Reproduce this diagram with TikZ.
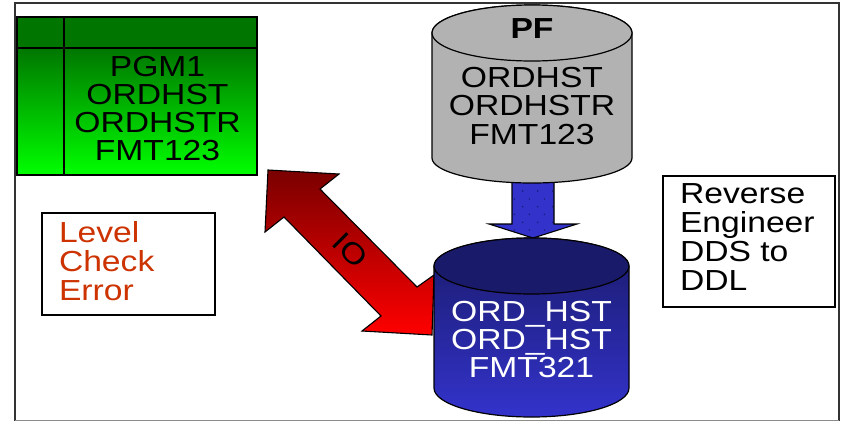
\documentclass[tikz,border=0pt]{standalone}
\usepackage{fontspec}
\setmainfont[FakeStretch=1.16]{Liberation Sans}
\definecolor{arrowblue}{RGB}{51,51,204}
\definecolor{navy}{RGB}{26,26,107}
\definecolor{darkgreen}{RGB}{0,118,0}
\definecolor{darkred}{RGB}{122,0,0}
\definecolor{rust}{RGB}{204,51,0}
\definecolor{cylgray}{RGB}{178,178,178}
\begin{document}
\begin{tikzpicture}[x=1pt,y=-1pt,
  every node/.style={inner sep=0pt,outer sep=0pt},
  big/.style={font=\fontsize{29}{28.3}\selectfont,align=center},
  side/.style={font=\fontsize{29}{29}\selectfont,align=left,anchor=north west},
  note/.style={draw=black,line width=1.3pt,fill=white},
  ln/.style={draw=black,line width=1.2pt}]
\useasboundingbox (0,0) rectangle (842,421);
\fill[white] (0,0) rectangle (842,421);
% frame
\draw[line width=1.3pt,black!80] (15,421) -- (15,3) -- (839,3) -- (839,421);
\draw[line width=1pt,black!45] (15,420.5) -- (839,420.5);
% green table
\path[top color=darkgreen,bottom color=green] (17,48) rectangle (257,175);
\fill[darkgreen] (17,17) rectangle (257,48);
\draw[ln] (17,17) rectangle (257,175);
\draw[ln] (17,48) -- (257,48);
\draw[ln] (64,17) -- (64,175);
\node[big,text=black] (pgm) at (157.5,108.5) {PGM1\\ORDHST\\ORDHSTR\\FMT123};
% double arrow
\draw[line width=1.1pt,black,top color=darkred,bottom color=red]
  (268,170) -- (339,174) -- (320,189) -- (417,287) -- (434,275) -- (432,335) -- (362,331) -- (381,316) -- (284,217) -- (265,232) -- cycle;
\node[font=\fontsize{29}{29}\selectfont,rotate=-45] (io) at (350,250) {IO};
% block arrow
\draw[line width=1.1pt,black,fill=arrowblue] (512,180) -- (554,180) -- (554,224) -- (577,224) -- (533,238) -- (489,224) -- (512,224) -- cycle;
\foreach \x/\y in {522.7/191,537.7/191,552.7/191,514.3/199,529.3/199,544.3/199,522.7/206.7,537.7/206.7,552.7/206.7,514.3/214.3,529.3/214.3,544.3/214.3,522.7/222.3,537.7/222.3,552.7/222.3,514.3/230,529.3/230,544.3/230}
  \fill[navy] (\x,\y) circle[radius=0.8];
% gray cylinder
\draw[ln,fill=cylgray] (432,33) -- (432,158) arc[start angle=180,end angle=0,x radius=100,y radius=25] -- (632,33) arc[start angle=0,end angle=-180,x radius=100,y radius=28] -- cycle;
\draw[ln,fill=cylgray] (532,33) ellipse[x radius=100,y radius=28];
\node[font=\bfseries\fontsize{29}{29}\selectfont] (pf) at (532,28.5) {PF};
\node[big] (pfbody) at (532,106) {ORDHST\\ORDHSTR\\FMT123};
% blue cylinder
\draw[ln,top color=navy,bottom color=arrowblue] (434,267) -- (434,388) arc[start angle=180,end angle=0,x radius=97.5,y radius=29] -- (629,267) arc[start angle=0,end angle=-180,x radius=97.5,y radius=29] -- cycle;
\draw[ln,fill=navy] (531.5,266) ellipse[x radius=97.5,y radius=28];
\node[big,text=white] (bluebody) at (531.5,339.5) {ORD\_HST\\ORD\_HST\\FMT321};
% notes
\node[note,minimum width=173pt,minimum height=102pt,anchor=north west] (left) at (42,213) {};
\node[side,text=rust] (lefttext) at (59,221) {Level\\Check\\Error};
\node[note,minimum width=172pt,minimum height=131pt,anchor=north west] (right) at (663,176) {};
\node[side,text=black] (righttext) at (680,184) {Reverse\\Engineer\\DDS to\\DDL};
\end{tikzpicture}
\end{document}
